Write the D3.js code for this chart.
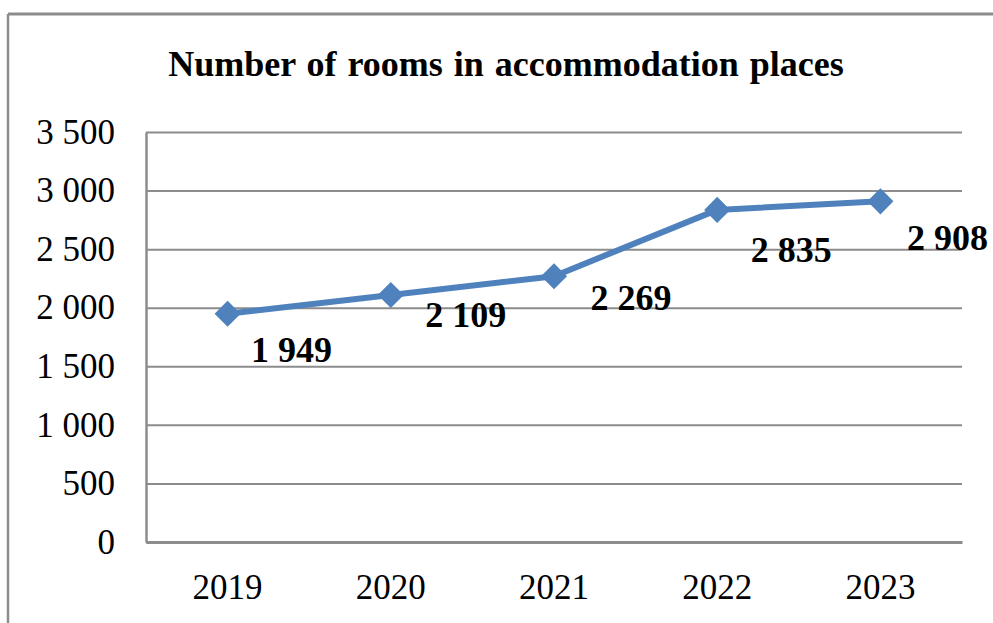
<!DOCTYPE html>
<html>
<head>
<meta charset="utf-8">
<script src="https://cdn.jsdelivr.net/npm/d3@7"></script>
<style>
    body { margin: 0; background: #fff; }
    svg { display: block; font-family: "Liberation Serif", "Times New Roman", serif; }
</style>
</head>
<body>
<svg id="chart" width="993" height="623"></svg>
<script>
// chart data
const years = ["2019", "2020", "2021", "2022", "2023"];
const rooms = [1949, 2109, 2269, 2835, 2908];
const yTicks = [0, 500, 1000, 1500, 2000, 2500, 3000, 3500];
const chartTitle = "Number of rooms in accommodation places";

const svg = d3.select("#chart");
const width = +svg.attr("width");
const height = +svg.attr("height");

const plot = {left: 146, right: 962, top: 132, bottom: 542};
const gray = "#8c8c8c";
const blue = "#4f81bd";

// outer frame (only top and left edges show in the crop)
svg.append("line").attr("x1", 8).attr("x2", width).attr("y1", 14).attr("y2", 14)
    .attr("stroke", gray).attr("stroke-width", 3);
svg.append("line").attr("x1", 8).attr("x2", 8).attr("y1", 14).attr("y2", height)
    .attr("stroke", gray).attr("stroke-width", 2.5);

svg.append("text")
    .attr("x", 506).attr("y", 76)
    .attr("text-anchor", "middle")
    .attr("font-weight", "bold")
    .attr("font-size", 36)
    .attr("word-spacing", 2)
    .text(chartTitle);

const x = d3.scaleBand().domain(years).range([plot.left, plot.right]);
const y = d3.scaleLinear().domain([0, 3500]).range([plot.bottom, plot.top]);

const fmt = v => d3.format(",")(v).replace(/,/g, " ");

// horizontal gridlines
svg.append("g")
    .attr("transform", `translate(${plot.left},0)`)
    .call(d3.axisLeft(y).tickValues(yTicks).tickSize(-(plot.right - plot.left)).tickFormat(""))
    .call(g => g.select(".domain").remove())
    .call(g => g.selectAll(".tick line").attr("stroke", gray).attr("stroke-width", 2));

// y axis labels
svg.append("g")
    .attr("transform", `translate(${plot.left},0)`)
    .call(d3.axisLeft(y).tickValues(yTicks).tickSize(0).tickPadding(31).tickFormat(fmt))
    .call(g => g.select(".domain").attr("stroke", gray).attr("stroke-width", 2.5))
    .call(g => g.selectAll(".tick text")
        .attr("font-family", "Liberation Serif, Times New Roman, serif")
        .attr("font-size", 35).attr("fill", "#000"));

// x axis
svg.append("g")
    .attr("transform", `translate(0,${plot.bottom})`)
    .call(d3.axisBottom(x).tickSize(0).tickPadding(32))
    .call(g => g.select(".domain").attr("stroke", gray).attr("stroke-width", 3))
    .call(g => g.selectAll(".tick text")
        .attr("font-family", "Liberation Serif, Times New Roman, serif")
        .attr("font-size", 35).attr("fill", "#000"));

const cx = d => x(d) + x.bandwidth() / 2;
const pts = years.map((yr, i) => [cx(yr), y(rooms[i])]);

svg.append("path")
    .attr("d", d3.line()(pts))
    .attr("fill", "none")
    .attr("stroke", blue)
    .attr("stroke-width", 6)
    .attr("stroke-linejoin", "round");

svg.selectAll("path.marker")
    .data(pts)
    .join("path")
    .attr("class", "marker")
    .attr("d", d3.symbol(d3.symbolSquare, 340))
    .attr("transform", d => `translate(${d[0]},${d[1]}) rotate(45)`)
    .attr("fill", blue);

// data labels were hand placed in the original, so nudge each one
const labelNudge = [[64, 48], [75, 32], [77, 34], [74, 52], [67, 49]];
svg.selectAll("text.value")
    .data(pts)
    .join("text")
    .attr("class", "value")
    .attr("x", (d, i) => d[0] + labelNudge[i][0])
    .attr("y", (d, i) => d[1] + labelNudge[i][1])
    .attr("text-anchor", "middle")
    .attr("font-weight", "bold")
    .attr("font-size", 36)
    .text((d, i) => fmt(rooms[i]));
</script>
</body>
</html>
